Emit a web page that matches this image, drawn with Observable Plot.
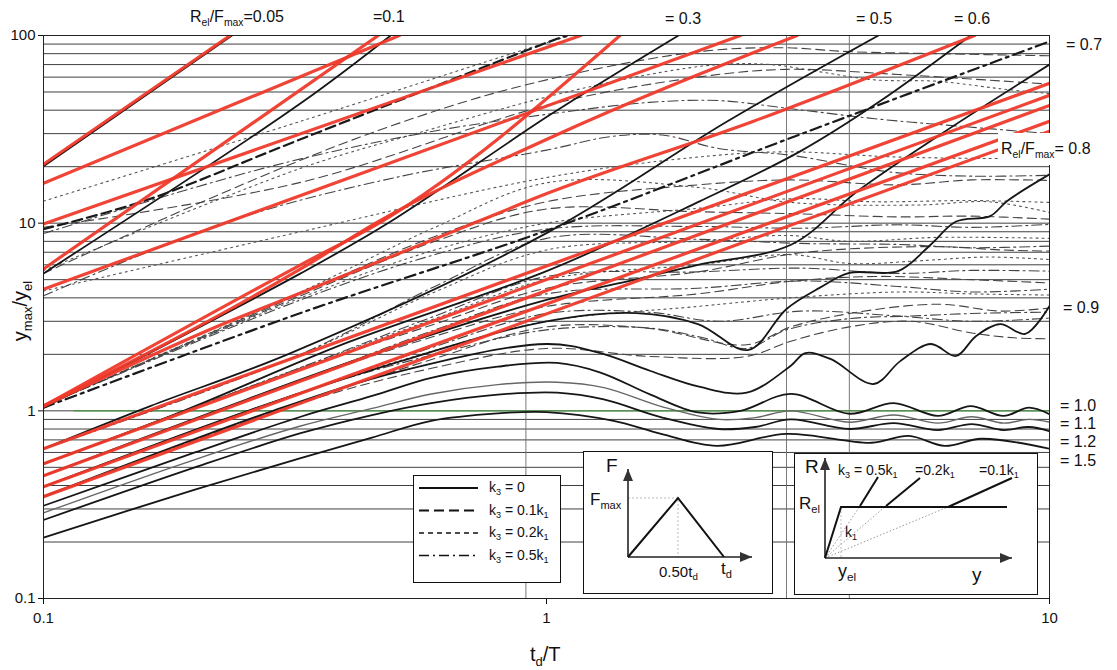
<!DOCTYPE html>
<html><head><meta charset="utf-8">
<script src="https://cdn.jsdelivr.net/npm/d3@7"></script>
<script src="https://cdn.jsdelivr.net/npm/@observablehq/plot@0.6"></script>
<style>
html,body{margin:0;padding:0;background:#fff;}
#wrap{position:relative;width:1117px;height:670px;font-family:"Liberation Sans",Arial,sans-serif;color:#111;overflow:hidden;}
.t{position:absolute;white-space:nowrap;line-height:1;}
.t sub{font-size:65%;vertical-align:-0.35em;line-height:0;}
.box{position:absolute;background:#fff;border:1.6px solid #111;box-sizing:border-box;}
.box svg{position:absolute;left:0;top:0;}
</style></head><body><div id="wrap"></div>
<script>
// Axis ticks and grid (td/T on x, ymax/yel on y)
const xTicks = [0.1, 1, 10];
const yTicks = [0.1, 1, 10, 100];
const yGrid = [0.1,0.2,0.3,0.4,0.5,0.6,0.7,0.8,0.9,1,2,3,4,5,6,7,8,9,10,20,30,40,50,60,70,80,90,100];
const xGrid = [0.91, 3, 4];

// Red straight lines
const red05a = [[0.1,20.6],[0.235,100]];
const red05b = [[0.1,16.3],[0.51,100]];
const red05c = [[0.1,9.9],[1.17,100]];
const red1a = [[0.1,5.7],[0.463,100]];
const red1b = [[0.1,4.45],[2.43,100]];
const red3a = [[0.1,1.06],[0.3245,6.0],[0.47,10.2],[1.4,100]];
const red3b = [[0.1,1.06],[0.3245,5.7],[0.463,10.2],[1.02,28.6],[3.15,100]];
const red3c = [[0.1,1.06],[0.23,2.94],[0.3245,4.24],[0.73,10.2],[0.97,13.9],[2.58,34.9],[7.1,100]];
const red5 = [[0.1,0.628],[10,55.6]];
const red6 = [[0.1,0.522],[10,48.0]];
const red7 = [[0.1,0.451],[10,42.4]];
const red8 = [[0.1,0.394],[10,34.9]];
const red9 = [[0.1,0.349],[10,30.9]];

// k3 = 0 (solid black)
const blk05 = [[0.1,20.1],[0.237,100]];
const blk1 = [[0.1,5.4],[0.3245,43.5],[0.49,100]];
const blk3 = [[0.1,1.04],[0.3245,5.4],[0.49,10.2],[1.02,38],[1.83,100]];
const blk5 = [[0.1,0.628],[0.163,1.06],[0.31,2.03],[1.0,8.85],[2.29,34.9],[4.57,100]];
const blk6 = [[0.1,0.522],[0.19,1.0],[0.4,2.3],[1.0,5.55],[2.02,13.1],[3.2,24.2],[4.6,44.6],[6.97,100]];
const blk7 = [[0.1,0.451],[0.22,1.0],[0.45,2.0],[1.0,3.9],[1.5,5.0],[2.0,6.0],[3.07,7.7],[4.15,14.8],[6.07,29.7],[10,70]];
const blk8 = [[0.1,0.394],[0.255,1.0],[0.5,1.8],[1.0,3.0],[1.51,3.32],[2.0,2.9],[2.52,2.11],[3.0,3.49],[3.49,4.52],[4.0,5.43],[5.0,5.55],[5.81,7.7],[6.52,10.2],[7.62,10.9],[8.23,13.1],[10,18.2]];
const blk9 = [[0.1,0.349],[0.286,1.0],[0.513,1.63],[1.0,2.27],[1.28,2.03],[1.61,1.63],[2.02,1.34],[2.5,1.25],[3.06,1.74],[3.27,2.03],[3.67,1.89],[4.47,1.39],[5.05,1.84],[5.81,2.27],[6.52,1.96],[7.14,2.5],[7.98,2.9],[8.95,2.57],[10,3.62]];
const blk10 = [[0.1,0.312],[0.2,0.6],[0.3245,0.93],[0.45,1.2],[0.59,1.5],[0.8,1.72],[1.05,1.8],[1.28,1.6],[1.61,1.22],[2.0,0.98],[2.43,1.0],[3.06,1.23],[4.0,0.965],[4.9,1.1],[6.0,0.94],[6.97,1.06],[8.1,0.94],[9.1,1.04],[10,0.96]];
const blk11 = [[0.1,0.286],[0.2,0.55],[0.3245,0.83],[0.45,1.03],[0.59,1.23],[0.8,1.38],[1.05,1.42],[1.3,1.33],[1.7,1.05],[2.2,0.9],[2.6,0.92],[3.06,1.0],[4.0,0.87],[4.9,0.95],[6.0,0.86],[7,0.93],[8.1,0.86],[9.1,0.9],[10,0.87]];
const blk12 = [[0.1,0.262],[0.2,0.5],[0.3245,0.76],[0.45,0.95],[0.59,1.1],[0.8,1.22],[1.05,1.25],[1.3,1.15],[1.7,0.92],[2.2,0.8],[2.6,0.82],[3.06,0.9],[4.0,0.8],[4.9,0.86],[6,0.79],[7,0.85],[8.1,0.79],[9.1,0.82],[10,0.78]];
const blk15 = [[0.1,0.211],[0.2,0.38],[0.3245,0.56],[0.45,0.72],[0.59,0.885],[0.8,0.97],[1.0,0.985],[1.36,0.885],[1.69,0.754],[2.18,0.651],[3.0,0.754],[4.43,0.676],[5.25,0.736],[6.19,0.651],[7.33,0.71],[10,0.628]];

// Heavy black k3 lines
const heavyDash = [[0.1,9.3],[0.158,13.1],[0.3245,28],[1.05,96],[1.1,100]];
const heavyDashDot = [[0.1,1.04],[0.3245,3.32],[1.02,9.3],[3.2,29.8],[10,93]];

// k3 = 0.1 k1 (dashed)
const dashU3 = [[0.1,5.4],[0.2,12.5],[0.4,27],[0.7,45],[1.0,58],[1.6,75],[2.2,84],[3,86],[4,82],[6,80],[10,78]];
const dashU6 = [[0.1,9.5],[0.3245,16.5],[1.02,43],[2.0,60],[3,66],[5,62],[10,55]];
const dashM1 = [[0.1,1.06],[0.3245,4.2],[0.6,8.5],[1.0,13],[2,16],[3.06,17],[5,16],[7,17],[10,16.9]];
const dashM4 = [[0.1,1.06],[0.3245,4.1],[0.6,8],[1.0,11.9],[2,11.5],[3.2,11.2],[5,10.8],[7,10.9],[10,10.5]];
const dashM8 = [[0.1,0.522],[0.3245,1.68],[0.6,2.9],[1.0,4.5],[2,5.5],[3.2,6.95],[6,7.5],[8,7.2],[10,7.1]];
const dashM11 = [[0.1,0.451],[0.3245,1.45],[0.6,2.5],[1.0,3.6],[2,4.2],[3.06,4.9],[4.5,5.2],[7,5.0],[10,4.8]];
const dashM14 = [[0.1,0.349],[0.3245,1.1],[0.6,1.9],[1.0,2.8],[1.6,2.75],[2.5,2.25],[3.06,2.8],[4,3.3],[6,3.7],[8,3.4],[10,3.53]];
const dashM16 = [[0.1,0.349],[0.3245,1.1],[0.6,1.7],[1.0,2.15],[1.6,1.95],[2.5,1.95],[3.06,2.35],[4,2.8],[5.3,3.0],[7,2.6],[8.5,2.45],[10,2.42]];

// k3 = 0.2 k1 (short dashes)
const dotU1 = [[0.1,13.1],[0.3245,34.9],[1.02,93],[1.2,105]];
const dotU2 = [[0.1,5.6],[0.3245,19.6],[0.55,30],[1.0,47],[1.6,62],[2.2,70],[2.8,70],[3.5,64],[4.5,58],[6,57],[8,52],[10,49]];
const dotU7 = [[0.1,4.35],[0.3245,9.0],[1.0,17.5],[2.0,22.5],[3.0,24],[5,22.5],[10,22]];
const dotM3 = [[0.1,1.06],[0.3245,4.3],[0.6,9.5],[1.0,16.4],[2,15.5],[3.06,12.9],[5.5,12.5],[7.6,13],[10,11.4]];
const dotM2 = [[0.1,1.06],[0.3245,4.0],[0.6,7.2],[1.0,10],[2,12],[3.06,13.5],[4.5,13],[7,13.2],[10,12.9]];
const dotM6 = [[0.1,0.628],[0.3245,2.0],[0.6,4.3],[1.0,7.2],[2,8.0],[3.0,8.6],[4,8.0],[6,8.4],[10,8.3]];
const dotM9 = [[0.1,0.522],[0.3245,1.7],[0.6,3.1],[1.0,5.0],[2,6.0],[3.06,6.8],[4,6.1],[5.5,6.3],[7.5,6.6],[10,6.4]];
const dotM13 = [[0.1,0.394],[0.3245,1.25],[0.6,2.1],[1.0,3.0],[2,3.6],[3.06,4.0],[5,4.3],[7,4.2],[10,4.14]];

// k3 = 0.5 k1 (dash-dot)
const ddU4 = [[0.1,4.1],[0.233,10.2],[0.5,17.5],[1.0,24.5],[1.35,29],[1.7,29.5],[2.2,25],[3.06,23],[4.85,18.7],[7,17.8],[10,18]];
const ddU5 = [[0.1,8.8],[0.2,15.5],[0.3245,22],[0.6,31],[1.0,38],[1.6,44],[2.2,45],[3.0,41],[4.5,36],[6.5,33],[10,30]];
const ddM5 = [[0.1,1.06],[0.3245,3.9],[0.6,6.8],[1.0,9.3],[2,9.6],[3.2,9.4],[5,9.8],[7,9.5],[10,9.85]];
const ddM7 = [[0.1,0.628],[0.3245,2.0],[0.6,4.6],[1.0,8.3],[2,8.2],[3.2,7.8],[5,7.7],[7,7.4],[10,7.55]];
const ddM10 = [[0.1,0.522],[0.3245,1.7],[0.6,3.2],[1.0,5.2],[2,5.5],[3.2,5.76],[5,5.4],[7,5.6],[10,5.55]];
const ddM12 = [[0.1,0.451],[0.3245,1.45],[0.6,2.7],[1.0,4.2],[2,4.5],[3.2,4.92],[5,4.6],[7,4.3],[10,4.45]];
const ddM15 = [[0.1,0.394],[0.3245,1.25],[0.6,2.2],[1.0,3.3],[1.6,3.35],[2.2,3.0],[3.2,3.4],[5,3.2],[7,3.0],[10,3.12]];
const ddM17 = [[0.1,0.394],[0.3245,1.25],[0.6,2.0],[1.0,2.7],[1.6,2.76],[2.05,2.45],[2.5,2.15],[3.0,2.7],[4,3.1],[5.3,3.2],[7,3.3],[10,3.36]];

function rows(group) {
  return Object.entries(group).flatMap(([id, pts]) => pts.map(([x, y]) => ({id, x, y})));
}
const reds = rows({red05a, red05b, red05c, red1a, red1b, red3a, red3b, red3c, red5, red6, red7, red8, red9});
const blacks = rows({blk05, blk1, blk3, blk5, blk6, blk7, blk8, blk9, blk10, blk12, blk15});
const grayed = rows({blk11});
const heavyD = rows({heavyDash});
const heavyDD = rows({heavyDashDot});
const dashed = rows({dashU3, dashU6, dashM1, dashM4, dashM8, dashM11, dashM14, dashM16});
const dotted = rows({dotU1, dotU2, dotU7, dotM3, dotM2, dotM6, dotM9, dotM13});
const dashdot = rows({ddU4, ddU5, ddM5, ddM7, ddM10, ddM12, ddM15, ddM17});

const lineOpts = (extra) => Object.assign({x: "x", y: "y", z: "id", clip: true, curve: "catmull-rom", strokeLinejoin: "round"}, extra);

const chart = Plot.plot({
  width: 1117, height: 670,
  marginLeft: 43, marginRight: 68, marginTop: 35, marginBottom: 72,
  style: {fontFamily: '"Liberation Sans", Arial, sans-serif', fontSize: "15px", color: "#111", background: "#fff"},
  x: {type: "log", domain: [0.1, 10], ticks: xTicks, tickFormat: d => String(d), label: null, tickSize: 6, tickPadding: 8},
  y: {type: "log", domain: [0.1, 100], ticks: yTicks, tickFormat: d => String(d), label: null, tickSize: 5, tickPadding: 3},
  marks: [
    Plot.ruleY(yGrid, {stroke: "#2a2a2a", strokeWidth: 0.9}),
    Plot.ruleX(xGrid, {stroke: "#6a6a6a", strokeWidth: 0.9}),
    Plot.ruleY([1], {x1: 0.115, x2: 10, stroke: "#3f9a3a", strokeWidth: 1.3, strokeOpacity: 0.8}),
    Plot.line(dotted, lineOpts({stroke: "#555", strokeWidth: 1.1, strokeDasharray: "2,4"})),
    Plot.line(dashed, lineOpts({stroke: "#444", strokeWidth: 1.1, strokeDasharray: "9,5"})),
    Plot.line(dashdot, lineOpts({stroke: "#444", strokeWidth: 1.1, strokeDasharray: "10,4,2,4"})),
    Plot.line(grayed, lineOpts({stroke: "#666", strokeWidth: 1.4})),
    Plot.line(blacks, lineOpts({stroke: "#161616", strokeWidth: 1.8})),
    Plot.line(heavyD, lineOpts({stroke: "#1a1a1a", strokeWidth: 2.2, strokeDasharray: "10,5"})),
    Plot.line(heavyDD, lineOpts({stroke: "#1a1a1a", strokeWidth: 2.2, strokeDasharray: "11,5,3,5"})),
    Plot.line(reds, lineOpts({stroke: "#ee3a2b", strokeWidth: 3.2, curve: "monotone-x", strokeOpacity: 0.95})),
    Plot.frame({stroke: "#222", strokeWidth: 1})
  ]
});

const wrap = document.getElementById("wrap");
wrap.appendChild(chart);

function label(parent, html, left, cy, size, extra) {
  const d = document.createElement("div");
  d.className = "t";
  d.innerHTML = html;
  d.style.left = left + "px";
  d.style.top = (cy - size * 0.55) + "px";
  d.style.fontSize = size + "px";
  if (extra) Object.assign(d.style, extra);
  parent.appendChild(d);
  return d;
}
const RF = "R<sub>el</sub>/F<sub>max</sub>";

// Curve family labels
label(wrap, RF + "=0.05", 190, 18, 16);
label(wrap, "=0.1", 373, 18, 16);
label(wrap, "= 0.3", 665, 20, 16);
label(wrap, "= 0.5", 856, 20, 16);
label(wrap, "= 0.6", 954, 20, 16);
label(wrap, "= 0.7", 1066, 46, 16);
label(wrap, RF + "= 0.8", 998, 150, 16, {background: "#fff", padding: "8px 6px 8px 3px", marginTop: "-8px"});
label(wrap, "= 0.9", 1063, 309, 16);
label(wrap, "= 1.0", 1060, 407, 16);
label(wrap, "= 1.1", 1060, 425, 16);
label(wrap, "= 1.2", 1060, 443, 16);
label(wrap, "= 1.5", 1060, 462, 16);

// Axis titles
label(wrap, "t<sub>d</sub>/T", 530, 655, 20);
label(wrap, "y<sub>max</sub>/y<sub>el</sub>", -28, 312, 20, {transform: "rotate(-90deg)", transformOrigin: "50% 50%", width: "96px", textAlign: "center"});

// Legend
const legend = document.createElement("div");
legend.className = "box";
Object.assign(legend.style, {left: "413px", top: "475px", width: "148px", height: "108px"});
wrap.appendChild(legend);
const legendRows = [
  {html: "k<sub>3</sub> = 0", dash: null, w: 2},
  {html: "k<sub>3</sub> = 0.1k<sub>1</sub>", dash: "10,5", w: 1.8},
  {html: "k<sub>3</sub> = 0.2k<sub>1</sub>", dash: "5,4", w: 1.6},
  {html: "k<sub>3</sub> = 0.5k<sub>1</sub>", dash: "10,4,2,4", w: 1.6}
];
const lsvg = d3.select(legend).append("svg").attr("width", 146).attr("height", 106);
legendRows.forEach((r, i) => {
  const y = 12 + i * 22.5;
  lsvg.append("line").attr("x1", 5).attr("x2", 64).attr("y1", y).attr("y2", y)
    .attr("stroke", "#111").attr("stroke-width", r.w).attr("stroke-dasharray", r.dash);
  label(legend, r.html, 75, y, 14);
});

function arrow(svg, x1, y1, x2, y2) {
  svg.append("line").attr("x1", x1).attr("y1", y1).attr("x2", x2).attr("y2", y2).attr("stroke", "#222").attr("stroke-width", 1.6);
  const a = Math.atan2(y2 - y1, x2 - x1), L = 12, Wd = 5;
  const bx = x2 - L * Math.cos(a), by = y2 - L * Math.sin(a);
  const px = -Math.sin(a) * Wd, py = Math.cos(a) * Wd;
  svg.append("path").attr("d", `M${x2},${y2}L${bx + px},${by + py}L${bx - px},${by - py}Z`).attr("fill", "#333");
}

// Load pulse sketch
const ins1 = document.createElement("div");
ins1.className = "box";
Object.assign(ins1.style, {left: "583px", top: "451px", width: "190px", height: "143px"});
wrap.appendChild(ins1);
const s1 = d3.select(ins1).append("svg").attr("width", 188).attr("height", 141);
s1.append("path").attr("d", "M44,46H94V105").attr("fill", "none").attr("stroke", "#bbb").attr("stroke-width", 1).attr("stroke-dasharray", "2,2");
arrow(s1, 44, 105, 44, 17);
arrow(s1, 44, 105, 168, 105);
s1.append("path").attr("d", "M44,105L94,46L140,105").attr("fill", "none").attr("stroke", "#111").attr("stroke-width", 2);
label(ins1, "F", 22, 14, 19);
label(ins1, "F<sub>max</sub>", 6, 48, 17);
label(ins1, "0.50t<sub>d</sub>", 75, 120, 15);
label(ins1, "t<sub>d</sub>", 137, 117, 17);

// Resistance sketch
const ins2 = document.createElement("div");
ins2.className = "box";
Object.assign(ins2.style, {left: "794px", top: "453px", width: "244px", height: "142px"});
wrap.appendChild(ins2);
const s2 = d3.select(ins2).append("svg").attr("width", 242).attr("height", 140);
[[65, 52], [91, 52], [153, 53]].forEach(([x, y]) => {
  s2.append("line").attr("x1", 30).attr("y1", 104).attr("x2", x).attr("y2", y).attr("stroke", "#999").attr("stroke-width", 1).attr("stroke-dasharray", "1.5,2");
});
s2.append("line").attr("x1", 46).attr("y1", 53).attr("x2", 46).attr("y2", 104).attr("stroke", "#bbb").attr("stroke-width", 1).attr("stroke-dasharray", "2,2");
arrow(s2, 30, 104, 30, 4);
arrow(s2, 30, 104, 217, 104);
s2.append("path").attr("d", "M30,104L46,53H212").attr("fill", "none").attr("stroke", "#111").attr("stroke-width", 2);
s2.append("path").attr("d", "M65,52L83,23").attr("stroke", "#111").attr("stroke-width", 2);
s2.append("path").attr("d", "M91,52L125,24").attr("stroke", "#111").attr("stroke-width", 2);
s2.append("path").attr("d", "M153,53L217,24").attr("stroke", "#111").attr("stroke-width", 2);
label(ins2, "R", 10, 13, 19);
label(ins2, "R<sub>el</sub>", 4, 50, 17);
label(ins2, "k<sub>3</sub> = 0.5k<sub>1</sub>", 43, 17, 14);
label(ins2, "=0.2k<sub>1</sub>", 120, 17, 14);
label(ins2, "=0.1k<sub>1</sub>", 184, 17, 14);
label(ins2, "k<sub>1</sub>", 50, 79, 14);
label(ins2, "y<sub>el</sub>", 43, 118, 18);
label(ins2, "y", 177, 121, 19);
</script></body></html>
